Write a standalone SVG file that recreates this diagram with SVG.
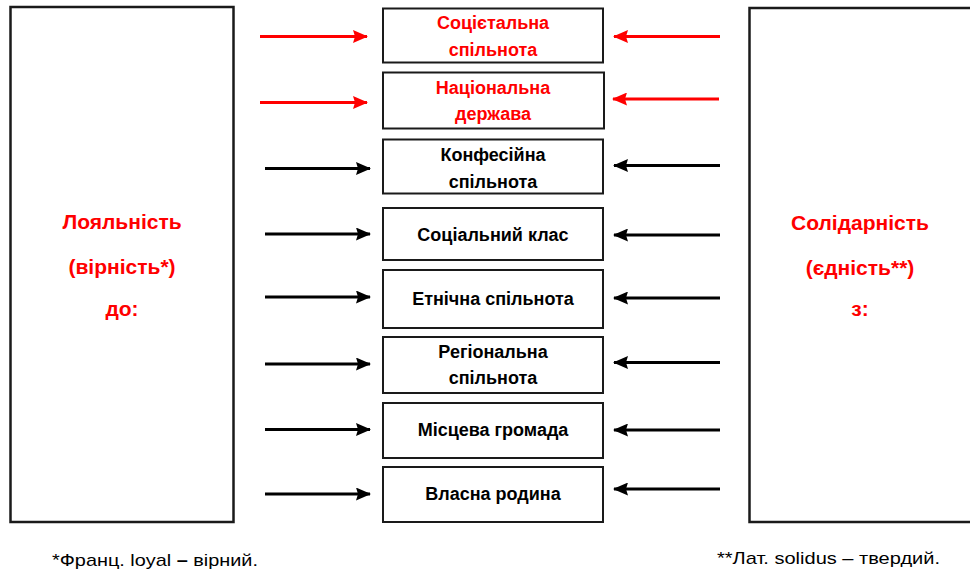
<svg xmlns="http://www.w3.org/2000/svg" width="970" height="573" viewBox="0 0 970 573">
<defs>
<marker id="ar" markerUnits="userSpaceOnUse" markerWidth="15" markerHeight="13" refX="14" refY="6.5" orient="auto"><path d="M0,0 L15,6.5 L0,13 L2,6.5 Z" fill="#FF0000"/></marker>
<marker id="ab" markerUnits="userSpaceOnUse" markerWidth="15" markerHeight="13" refX="14" refY="6.5" orient="auto"><path d="M0,0 L15,6.5 L0,13 L2,6.5 Z" fill="#000"/></marker>
</defs>
<style>
.big{fill:#fff;stroke:#1a1a1a;stroke-width:2.5}
.box{fill:#fff;stroke:#1a1a1a;stroke-width:2}
.t{font-family:"Liberation Sans",Arial,sans-serif;font-weight:bold;font-size:18px;text-anchor:middle}
.side{font-family:"Liberation Sans",Arial,sans-serif;font-weight:bold;font-size:21px;text-anchor:middle;fill:#FF0000}
.red{fill:#FF0000}
.blk{fill:#000}
.note{font-family:"Liberation Sans",Arial,sans-serif;font-size:17px;fill:#000}
.r{stroke:#FF0000;stroke-width:3;fill:none;marker-end:url(#ar)}
.b{stroke:#000;stroke-width:3;fill:none;marker-end:url(#ab)}
</style>
<rect width="970" height="573" fill="#fff"/>
<g id="left">
<rect class="big" x="10.5" y="7" width="223" height="515"/>
<text class="side" x="122" y="229">Лояльність</text>
<text class="side" x="122" y="274">(вірність*)</text>
<text class="side" x="122" y="316">до:</text>
</g>
<g id="right">
<rect class="big" x="749.5" y="8" width="230" height="514"/>
<text class="side" x="860" y="230">Солідарність</text>
<text class="side" x="860" y="275">(єдність**)</text>
<text class="side" x="860" y="316">з:</text>
</g>
<g id="n1"><rect class="box" x="383" y="8.5" width="220" height="54"/>
<text class="t red" x="493" y="29">Соцієтальна</text><text class="t red" x="493" y="56">спільнота</text></g>
<g id="n2"><rect class="box" x="383" y="72.5" width="221" height="56"/>
<text class="t red" x="493" y="94">Національна</text><text class="t red" x="493" y="120">держава</text></g>
<g id="n3"><rect class="box" x="383" y="139.5" width="220" height="54"/>
<text class="t blk" x="493" y="161">Конфесійна</text><text class="t blk" x="493" y="188">спільнота</text></g>
<g id="n4"><rect class="box" x="383" y="208" width="220" height="52"/>
<text class="t blk" x="493" y="241">Соціальний клас</text></g>
<g id="n5"><rect class="box" x="383" y="270" width="220" height="58"/>
<text class="t blk" x="493" y="305">Етнічна спільнота</text></g>
<g id="n6"><rect class="box" x="383" y="337" width="220" height="56"/>
<text class="t blk" x="493" y="358">Регіональна</text><text class="t blk" x="493" y="384">спільнота</text></g>
<g id="n7"><rect class="box" x="383" y="403" width="220" height="55"/>
<text class="t blk" x="493" y="436">Місцева громада</text></g>
<g id="n8"><rect class="box" x="383" y="467" width="220" height="55"/>
<text class="t blk" x="493" y="500">Власна родина</text></g>
<g id="connectors">
<line class="r" x1="260" y1="36.5" x2="367" y2="36.5"/>
<line class="r" x1="260" y1="102.5" x2="367" y2="102.5"/>
<line class="b" x1="265" y1="168.5" x2="370" y2="168.5"/>
<line class="b" x1="265" y1="234" x2="370" y2="234"/>
<line class="b" x1="265" y1="297" x2="370" y2="297"/>
<line class="b" x1="265" y1="364" x2="370" y2="364"/>
<line class="b" x1="265" y1="429.5" x2="370" y2="429.5"/>
<line class="b" x1="265" y1="494" x2="370" y2="494"/>
<line class="r" x1="720" y1="36.5" x2="614" y2="36.5"/>
<line class="r" x1="719" y1="99" x2="613" y2="99"/>
<line class="b" x1="720" y1="165.5" x2="614" y2="165.5"/>
<line class="b" x1="720" y1="235" x2="614" y2="235"/>
<line class="b" x1="720" y1="298" x2="614" y2="298"/>
<line class="b" x1="720" y1="362.5" x2="614" y2="362.5"/>
<line class="b" x1="720" y1="430" x2="614" y2="430"/>
<line class="b" x1="720" y1="489" x2="614" y2="489"/>
</g>
<text class="note" x="52" y="566" textLength="206" lengthAdjust="spacingAndGlyphs">*Франц. loyal <tspan font-weight="bold">–</tspan> вірний.</text>
<text class="note" x="717" y="564" textLength="223" lengthAdjust="spacingAndGlyphs">**Лат. solidus – твердий.</text>
</svg>
